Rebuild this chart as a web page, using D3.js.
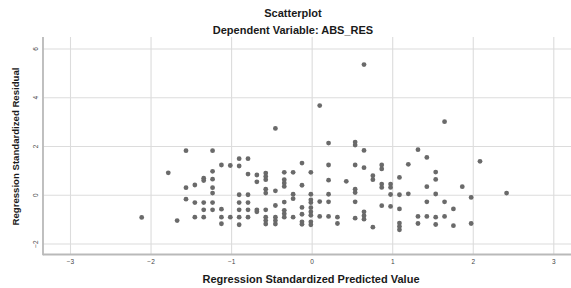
<!DOCTYPE html>
<html>
<head>
<meta charset="utf-8">
<script src="https://cdn.jsdelivr.net/npm/d3@7"></script>
<style>
  html, body { margin: 0; padding: 0; background: #fff; }
  svg { display: block; font-family: "Liberation Sans", Arial, sans-serif; }
</style>
</head>
<body>
<svg id="chart" width="571" height="288"></svg>
<script>
const title = "Scatterplot";
const subtitle = "Dependent Variable: ABS_RES";
const xTitle = "Regression Standardized Predicted Value";
const yTitle = "Regression Standardized Residual";
const xTicks = [-3, -2, -1, 0, 1, 2, 3];
const yTicks = [-2, 0, 2, 4, 6];

// Regression standardized predicted values (x) and residuals (y)
const predicted = [
  -2.11,
  -1.78,
  -1.67,
  -1.56, -1.56, -1.56,
  -1.45, -1.45, -1.45,
  -1.34, -1.34, -1.34, -1.34, -1.34,
  -1.23, -1.23, -1.23, -1.23, -1.23, -1.23, -1.23,
  -1.12, -1.12, -1.12, -1.12,
  -1.01, -1.01,
  -0.90, -0.90, -0.90, -0.90, -0.90, -0.90, -0.90,
  -0.79, -0.79, -0.79, -0.79, -0.79, -0.79,
  -0.68, -0.68, -0.68, -0.68,
  -0.57, -0.57, -0.57, -0.57, -0.57, -0.57, -0.57, -0.57, -0.57,
  -0.45, -0.45, -0.45, -0.45, -0.45, -0.45,
  -0.34, -0.34, -0.34, -0.34, -0.34, -0.34, -0.34, -0.34,
  -0.23, -0.23, -0.23, -0.23,
  -0.12, -0.12, -0.12, -0.12, -0.12, -0.12,
  -0.01, -0.01, -0.01, -0.01, -0.01, -0.01, -0.01, -0.01, -0.01,
  0.10, 0.10, 0.10,
  0.21, 0.21, 0.21, 0.21, 0.21, 0.21,
  0.32, 0.32,
  0.43,
  0.54, 0.54, 0.54, 0.54, 0.54, 0.54, 0.54,
  0.65, 0.65, 0.65, 0.65, 0.65, 0.65,
  0.76, 0.76, 0.76,
  0.87, 0.87, 0.87, 0.87, 0.87,
  0.98, 0.98, 0.98, 0.98,
  1.09, 1.09, 1.09, 1.09, 1.09, 1.09,
  1.20, 1.20,
  1.32, 1.32, 1.32,
  1.43, 1.43, 1.43, 1.43,
  1.54, 1.54, 1.54, 1.54, 1.54,
  1.65, 1.65, 1.65,
  1.76, 1.76,
  1.87,
  1.98, 1.98,
  2.09,
  2.42
];
const residual = [
  -0.93,
  0.90,
  -1.06,
  1.81, 0.29, -0.18,
  0.40, -0.32, -0.92,
  0.68, 0.58, -0.32, -0.62, -0.92,
  1.81, 0.96, 0.64, 0.29, 0.07, -0.32, -0.62,
  1.22, -0.59, -0.92, -1.19,
  1.20, -0.92,
  1.48, 1.18, 0.00, -0.32, -0.62, -0.92, -1.23,
  1.48, 0.85, 0.00, -0.32, -0.62, -0.92,
  0.81, 0.53, -0.62, -0.70,
  0.89, 0.75, 0.62, 0.23, 0.07, -0.62, -0.92, -1.06, -1.20,
  2.72, 0.16, -0.44, -0.92, -1.06, -1.20,
  0.92, 0.62, 0.48, 0.34, -0.30, -0.64, -0.78, -0.92,
  0.92, 0.02, -0.16, -0.92,
  1.30, 0.39, -0.52, -0.80, -1.11, -1.21,
  0.92, 0.02, -0.21, -0.32, -0.53, -0.70, -0.84, -1.11, -1.23,
  3.66, -0.28, -0.89,
  2.12, 1.22, 0.60, 0.02, -0.29, -0.89,
  -0.92, -1.18,
  0.55,
  2.16, 2.04, 1.22, 0.23, 0.09, -0.29, -0.96,
  5.34, 1.82, 1.11, -0.70, -0.86, -1.00,
  0.78, 0.62, -1.33,
  1.22, 1.06, 0.44, 0.30, -0.45,
  0.44, 0.30, 0.01, -0.48,
  0.71, 0.00, -0.58, -1.16, -1.30, -1.44,
  1.25, 0.04,
  1.85, -0.89, -1.18,
  1.53, 0.33, -0.29, -0.89,
  0.93, 0.63, 0.03, -0.92, -1.22,
  3.00, -0.29, -0.89,
  -0.58, -1.27,
  0.33,
  -0.11, -1.18,
  1.37,
  0.07
];

const points = predicted.map((p, i) => ({ x: p, y: residual[i] }));

const svg = d3.select("#chart");
const W = 571, H = 288;
const plotLeft = 43, plotRight = 571, plotTop = 37, plotBottom = 254.5;

const x = d3.scaleLinear().domain([-3, 3]).range([70, 553.3]);
const y = d3.scaleLinear().domain([-2, 6]).range([243.5, 48.5]);

// vertical gridlines
const gx = svg.append("g")
  .attr("transform", `translate(0,${plotBottom})`)
  .call(d3.axisBottom(x).tickValues(xTicks).tickSize(-(plotBottom - plotTop)).tickFormat(""));
gx.select(".domain").remove();
gx.selectAll("line").attr("stroke", "#dcdcdc").attr("stroke-width", 1.1);

// horizontal gridlines
const gy = svg.append("g")
  .attr("transform", `translate(${plotLeft},0)`)
  .call(d3.axisLeft(y).tickValues(yTicks).tickSize(-(plotRight - plotLeft)).tickFormat(""));
gy.select(".domain").remove();
gy.selectAll("line").attr("stroke", "#dcdcdc").attr("stroke-width", 1.1);

// axis lines
svg.append("line")
  .attr("x1", plotLeft).attr("x2", plotLeft)
  .attr("y1", plotTop).attr("y2", plotBottom + 0.8)
  .attr("stroke", "#b9b9b9").attr("stroke-width", 1.8);
svg.append("line")
  .attr("x1", plotLeft).attr("x2", plotRight)
  .attr("y1", plotBottom).attr("y2", plotBottom)
  .attr("stroke", "#b9b9b9").attr("stroke-width", 1.8);

// x tick labels
const xl = svg.append("g")
  .attr("transform", `translate(0,${plotBottom})`)
  .call(d3.axisBottom(x).tickValues(xTicks).tickSize(0).tickPadding(5).tickFormat(d3.format("d")));
xl.select(".domain").remove();
xl.selectAll("text").attr("font-size", 6.5).attr("fill", "#444").attr("font-family", "Liberation Sans, Arial, sans-serif");

// y tick labels (rotated)
const yl = svg.append("g")
  .attr("transform", `translate(${plotLeft},0)`)
  .call(d3.axisLeft(y).tickValues(yTicks).tickSize(0).tickFormat(d3.format("d")));
yl.select(".domain").remove();
yl.selectAll("text")
  .attr("x", 0).attr("dy", 0)
  .attr("text-anchor", "middle")
  .attr("transform", "translate(-5.3,0) rotate(-90)")
  .attr("font-size", 6.5).attr("fill", "#444").attr("font-family", "Liberation Sans, Arial, sans-serif");

// points
svg.append("g").selectAll("circle")
  .data(points)
  .join("circle")
  .attr("cx", d => x(d.x))
  .attr("cy", d => y(d.y))
  .attr("r", 2.4)
  .attr("fill", "#6a6a6a");

// titles
svg.append("text").attr("x", 293).attr("y", 17).attr("text-anchor", "middle")
  .attr("font-size", 11).attr("font-weight", "bold").attr("fill", "#1a1a1a").text(title);
svg.append("text").attr("x", 293).attr("y", 34).attr("text-anchor", "middle")
  .attr("font-size", 11).attr("font-weight", "bold").attr("fill", "#1a1a1a").text(subtitle);
svg.append("text").attr("x", 311).attr("y", 283).attr("text-anchor", "middle")
  .attr("font-size", 11).attr("font-weight", "bold").attr("fill", "#1a1a1a").text(xTitle);
svg.append("text").attr("transform", "translate(19,146.5) rotate(-90)").attr("text-anchor", "middle")
  .attr("font-size", 9.6).attr("font-weight", "bold").attr("fill", "#1a1a1a").text(yTitle);
</script>
</body>
</html>
